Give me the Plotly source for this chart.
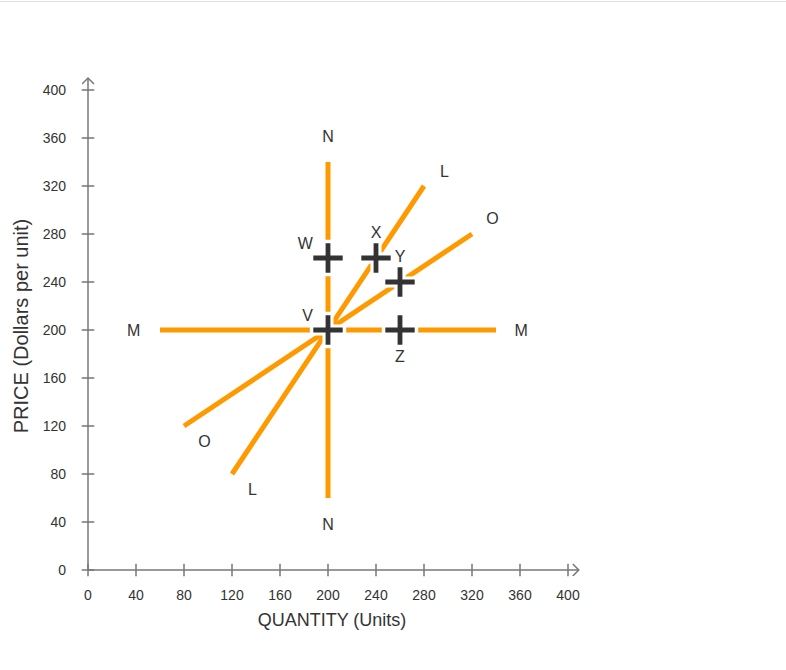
import plotly.graph_objects as go

# ---- data ----
tick_vals = [0, 40, 80, 120, 160, 200, 240, 280, 320, 360, 400]
tick_text = [str(v) for v in tick_vals]

curve_names = ["N", "M", "L", "O"]
curve_x = [[200, 200], [60, 340], [120, 280], [80, 320]]
curve_y = [[60, 340], [200, 200], [80, 320], [120, 280]]

curve_label_text = ["N", "N", "M", "M", "L", "L", "O", "O"]
curve_label_x = [200, 200, 38, 361, 297, 137, 337, 97]
curve_label_y = [360, 37, 198, 198, 331, 66, 292, 106]

point_names = ["V", "W", "X", "Y", "Z"]
point_x = [200, 200, 240, 260, 260]
point_y = [200, 260, 260, 240, 200]
point_label_x = [183, 181, 240, 260, 260]
point_label_y = [211, 271, 280, 260, 177]

ORANGE = "#FF9900"
AXIS = "#777777"
TEXT = "#333333"
FONT = "Liberation Sans, Arial, sans-serif"
AX_MAX = 411.667

fig = go.Figure()

# curves
for name, xs, ys in zip(curve_names, curve_x, curve_y):
    fig.add_trace(go.Scatter(x=xs, y=ys, mode="lines", name=name,
                             line=dict(color=ORANGE, width=5), hoverinfo="skip"))

# axis tick marks crossing the axes
fig.add_trace(go.Scatter(x=tick_vals, y=[0] * len(tick_vals), mode="markers",
                         marker=dict(symbol="line-ns-open", size=9, color=AXIS,
                                     line=dict(color=AXIS, width=1.5)),
                         hoverinfo="skip", cliponaxis=False))
fig.add_trace(go.Scatter(x=[0] * len(tick_vals), y=tick_vals, mode="markers",
                         marker=dict(symbol="line-ew-open", size=9, color=AXIS,
                                     line=dict(color=AXIS, width=1.5)),
                         hoverinfo="skip", cliponaxis=False))

# points: white halo then dark plus
fig.add_trace(go.Scatter(x=point_x, y=point_y, mode="markers",
                         marker=dict(symbol="cross-thin-open", size=26, color="white",
                                     line=dict(color="white", width=11)),
                         hoverinfo="skip", cliponaxis=False))
fig.add_trace(go.Scatter(x=point_x, y=point_y, mode="markers",
                         marker=dict(symbol="cross-thin-open", size=21, color=TEXT,
                                     line=dict(color=TEXT, width=4.8)),
                         hoverinfo="skip", cliponaxis=False))

# text labels
fig.add_trace(go.Scatter(x=curve_label_x, y=curve_label_y, mode="text",
                         text=curve_label_text,
                         textfont=dict(family=FONT, size=16, color=TEXT),
                         hoverinfo="skip", cliponaxis=False))
fig.add_trace(go.Scatter(x=point_label_x, y=point_label_y, mode="text",
                         text=point_names,
                         textfont=dict(family=FONT, size=16, color=TEXT),
                         hoverinfo="skip", cliponaxis=False))

# axis lines with open arrowheads
shapes = [
    dict(type="line", xref="x", yref="y", x0=0, y0=0, x1=409, y1=0,
         line=dict(color=AXIS, width=1.5)),
    dict(type="line", xref="x", yref="y", x0=0, y0=0, x1=0, y1=410,
         line=dict(color=AXIS, width=1.5)),
    dict(type="path", xref="x", yref="y", xsizemode="pixel", ysizemode="pixel",
         xanchor=409, yanchor=0, path="M -6,6 L 0,0 L -6,-6",
         line=dict(color=AXIS, width=1.5)),
    dict(type="path", xref="x", yref="y", xsizemode="pixel", ysizemode="pixel",
         xanchor=0, yanchor=410, path="M -6,-6 L 0,0 L 6,-6",
         line=dict(color=AXIS, width=1.5)),
]

fig.update_layout(
    width=778, height=662,
    margin=dict(l=74, r=204, t=68, b=94),
    paper_bgcolor="white", plot_bgcolor="white",
    showlegend=False,
    shapes=shapes,
    font=dict(family=FONT, color=TEXT),
    xaxis=dict(range=[-5, AX_MAX], showgrid=False, zeroline=False, showline=False,
               automargin=False,
               tickmode="array", tickvals=tick_vals, ticktext=tick_text,
               ticks="", ticklabelstandoff=9,
               tickfont=dict(family=FONT, size=14, color=TEXT),
               title=dict(text="QUANTITY (Units)", standoff=11,
                          font=dict(family=FONT, size=18, color=TEXT))),
    yaxis=dict(range=[-5, AX_MAX], showgrid=False, zeroline=False, showline=False,
               automargin=False,
               tickmode="array", tickvals=tick_vals, ticktext=tick_text,
               ticks="", ticklabelstandoff=15,
               tickfont=dict(family=FONT, size=14, color=TEXT),
               title=dict(text="PRICE (Dollars per unit)", standoff=8,
                          font=dict(family=FONT, size=20, color=TEXT))),
)

top_rule = ("var d=document.createElement('div');"
            "d.style.cssText='position:fixed;top:1px;left:0;width:100%;height:1px;background:#e3e3e3;';"
            "document.body.appendChild(d);")

fig.write_html("out.html", post_script=top_rule)
